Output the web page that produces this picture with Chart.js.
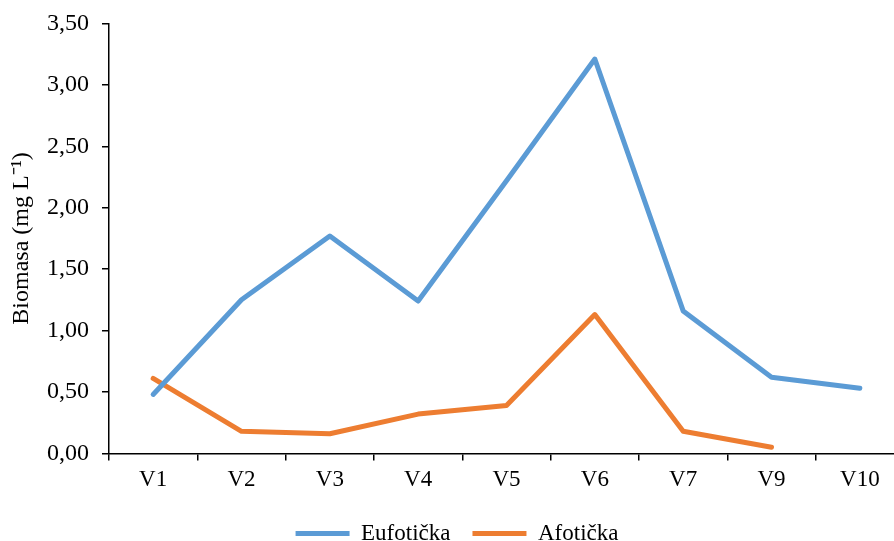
<!DOCTYPE html>
<html>
<head>
<meta charset="utf-8">
<script src="https://cdn.jsdelivr.net/npm/chart.js@4/dist/chart.umd.min.js"></script>
<style>
html,body{margin:0;padding:0;background:#fff;overflow:hidden;width:894px;height:541px;}
#c{display:block;margin-top:-4px;}
</style>
</head>
<body>
<canvas id="c" width="904" height="559"></canvas>
<script>
const categories = ['V1','V2','V3','V4','V5','V6','V7','V9','V10'];
const eufoticka = [0.48, 1.25, 1.77, 1.24, 2.22, 3.21, 1.16, 0.62, 0.53];
const afoticka = [0.61, 0.18, 0.16, 0.32, 0.39, 1.13, 0.18, 0.05, null];
const seriesNames = ['Eufotička', 'Afotička'];
const yTitle = 'Biomasa (mg L⁻¹)';

const font = 'Liberation Serif, Times New Roman, serif';
Chart.defaults.font.family = font;
Chart.defaults.color = '#000';

new Chart(document.getElementById('c'), {
  type: 'line',
  data: {
    labels: categories,
    datasets: [
      {label: seriesNames[0], data: eufoticka, borderColor: '#5B9BD5', backgroundColor: '#5B9BD5',
       borderWidth: 5, pointRadius: 0, borderCapStyle: 'round', borderJoinStyle: 'round', tension: 0},
      {label: seriesNames[1], data: afoticka, borderColor: '#ED7D31', backgroundColor: '#ED7D31',
       borderWidth: 5, pointRadius: 0, borderCapStyle: 'round', borderJoinStyle: 'round', tension: 0}
    ]
  },
  options: {
    responsive: false,
    animation: false,
    layout: {padding: {top: 0, left: 10, right: 0, bottom: 0}},
    plugins: {
      tooltip: {enabled: false},
      legend: {
        position: 'bottom',
        labels: {
          usePointStyle: true,
          pointStyle: 'line',
          pointStyleWidth: 54,
          boxHeight: 23,
          font: {size: 23, family: font},
          padding: 22,
          color: '#000'
        }
      }
    },
    scales: {
      x: {
        offset: true,
        grid: {display: true, offset: true, drawOnChartArea: false, drawTicks: true, tickLength: 7, color: '#000', lineWidth: 1.5},
        border: {display: true, color: '#000', width: 1.5},
        ticks: {font: {size: 23, family: font}, color: '#000', padding: 6, maxRotation: 0}
      },
      y: {
        min: 0, max: 3.5,
        grid: {display: true, drawOnChartArea: false, drawTicks: true, tickLength: 7, color: '#000', lineWidth: 1.5},
        border: {display: true, color: '#000', width: 1.5},
        ticks: {stepSize: 0.5, font: {size: 24, family: font}, color: '#000', padding: 13,
          callback: v => v.toFixed(2).replace('.', ',')},
        title: {display: true, text: yTitle, font: {size: 24, family: font, lineHeight: 1.0}, color: '#000', padding: {top: 0, bottom: 0}}
      }
    }
  }
});
</script>
</body>
</html>
